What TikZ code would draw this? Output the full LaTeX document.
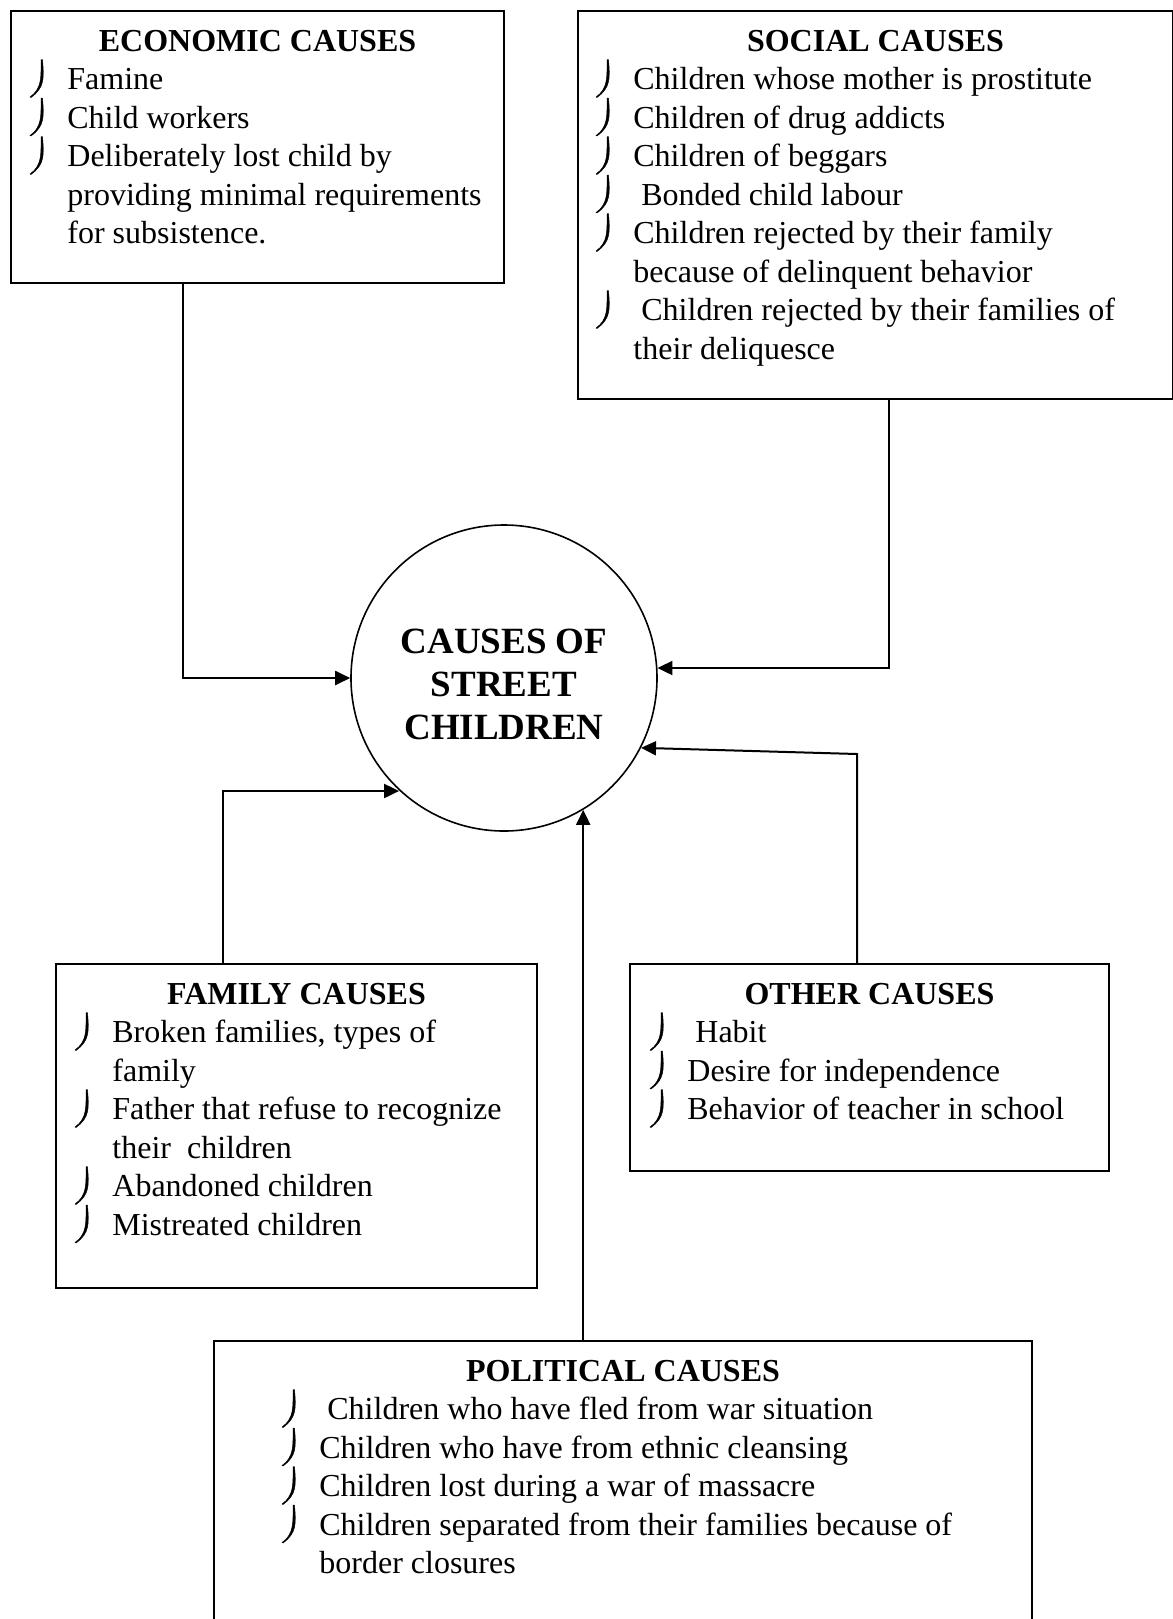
\documentclass[tikz,border=0pt]{standalone}
\usepackage{fontspec}
\setmainfont{Liberation Serif}
\usetikzlibrary{arrows.meta,calc}

% hooked bullet left of a list line
\newcommand{\drawhook}[1]{\fill[hook, shift={(#1.base west)}] (-24.5,-30) .. controls (-23,-12) and (-22,-2) .. (-36,8)
    -- (-37,7.5) .. controls (-25,-1) and (-26,-12) .. (-26,-30) -- cycle;}

\begin{document}
\begin{tikzpicture}[
    x=0.5pt, y=-0.5pt,
    box/.style={rectangle, draw, line width=1pt, anchor=north west, inner sep=0pt},
    head/.style={font=\fontsize{16}{19.3}\selectfont\bfseries, anchor=base, inner sep=0pt},
    entry/.style={font=\fontsize{16}{19.3}\selectfont, anchor=base west, inner sep=0pt},
    hook/.style={fill=black, draw=black, line width=0.2pt},
    hub/.style={circle, draw, line width=0.8pt, minimum size=153pt, inner sep=0pt},
    hubtext/.style={align=center, inner sep=0pt, font=\fontsize{18.5}{21.5}\selectfont\bfseries},
    arrow/.style={-{Triangle[length=7.5pt, width=7pt]}, line width=1pt}
]
    \useasboundingbox (0,0) rectangle (1173,1619);
    \clip (0,0) rectangle (1173,1619);

    % Centre
    \node[hub] (hub) at (504,678) {};
    \node[hubtext] (hub-label) at ($(hub.center)+(0,6)$) {CAUSES OF\\STREET\\CHILDREN};

    % Cause boxes
    \node[box, minimum width=246.5pt, minimum height=136pt] (econ) at (10,10) {};
    \node[box, minimum width=297.5pt, minimum height=194pt] (soc) at (577,10) {};
    \node[box, minimum width=240.5pt, minimum height=162pt] (fam) at (55,963) {};
    \node[box, minimum width=239.5pt, minimum height=103.5pt] (oth) at (629,963) {};
    \node[box, minimum width=409pt, minimum height=150pt] (pol) at (213,1340) {};

    % Headings
    \node[head] (econ-head) at ($(econ.north)+(0,41)$) {ECONOMIC CAUSES};
    \node[head] (soc-head) at ($(soc.north)+(0,41)$) {SOCIAL CAUSES};
    \node[head] (fam-head) at ($(fam.north)+(0,41)$) {FAMILY CAUSES};
    \node[head] (oth-head) at ($(oth.north)+(0,41)$) {OTHER CAUSES};
    \node[head] (pol-head) at ($(pol.north)+(0,41)$) {POLITICAL CAUSES};

    % Lists (y = bullet, n = continued line)
    \foreach \m/\t [count=\i] in {y/Famine, y/Child workers, y/Deliberately lost child by,
        n/providing minimal requirements, n/for subsistence.}
        {\node[entry] (econ-\i) at ($(econ.north west)+(57,41+38.5*\i)$) {\t};
         \if y\m \drawhook{econ-\i}\fi}
    \foreach \m/\t [count=\i] in {y/Children whose mother is prostitute, y/Children of drug addicts,
        y/Children of beggars, y/\ Bonded child labour, y/Children rejected by their family,
        n/because of delinquent behavior, y/\ Children rejected by their families of, n/their deliquesce}
        {\node[entry] (soc-\i) at ($(soc.north west)+(56,41+38.5*\i)$) {\t};
         \if y\m \drawhook{soc-\i}\fi}
    \foreach \m/\t [count=\i] in {y/{Broken families, types of}, n/family, y/Father that refuse to recognize,
        n/their\ \ children, y/Abandoned children, y/Mistreated children}
        {\node[entry] (fam-\i) at ($(fam.north west)+(57,41+38.5*\i)$) {\t};
         \if y\m \drawhook{fam-\i}\fi}
    \foreach \m/\t [count=\i] in {y/\ Habit, y/Desire for independence, y/Behavior of teacher in school}
        {\node[entry] (oth-\i) at ($(oth.north west)+(58,41+38.5*\i)$) {\t};
         \if y\m \drawhook{oth-\i}\fi}
    \foreach \m/\t [count=\i] in {y/\ Children who have fled from war situation, y/Children who have from ethnic cleansing,
        y/Children lost during a war of massacre, y/Children separated from their families because of,
        n/border closures}
        {\node[entry] (pol-\i) at ($(pol.north west)+(106,41+38.5*\i)$) {\t};
         \if y\m \drawhook{pol-\i}\fi}

    % Arrows
    \coordinate (econ-bend) at (183,678);
    \coordinate (soc-bend) at (889,668);
    \coordinate (fam-bend) at (223,791);
    \coordinate (oth-bend) at (857,754);
    \draw[arrow] (econ.south -| econ-bend) -- (econ-bend) -- (hub.west);
    \draw[arrow] (soc.south -| soc-bend) -- (soc-bend) -- (soc-bend -| hub.4);
    \draw[arrow] (fam.north -| fam-bend) -- (fam-bend) -- (fam-bend -| hub.227);
    \draw[arrow] (oth.north -| oth-bend) -- (oth-bend) -- (hub.333);
    \draw[arrow] (pol.north -| hub.301) -- (hub.301);
\end{tikzpicture}
\end{document}
